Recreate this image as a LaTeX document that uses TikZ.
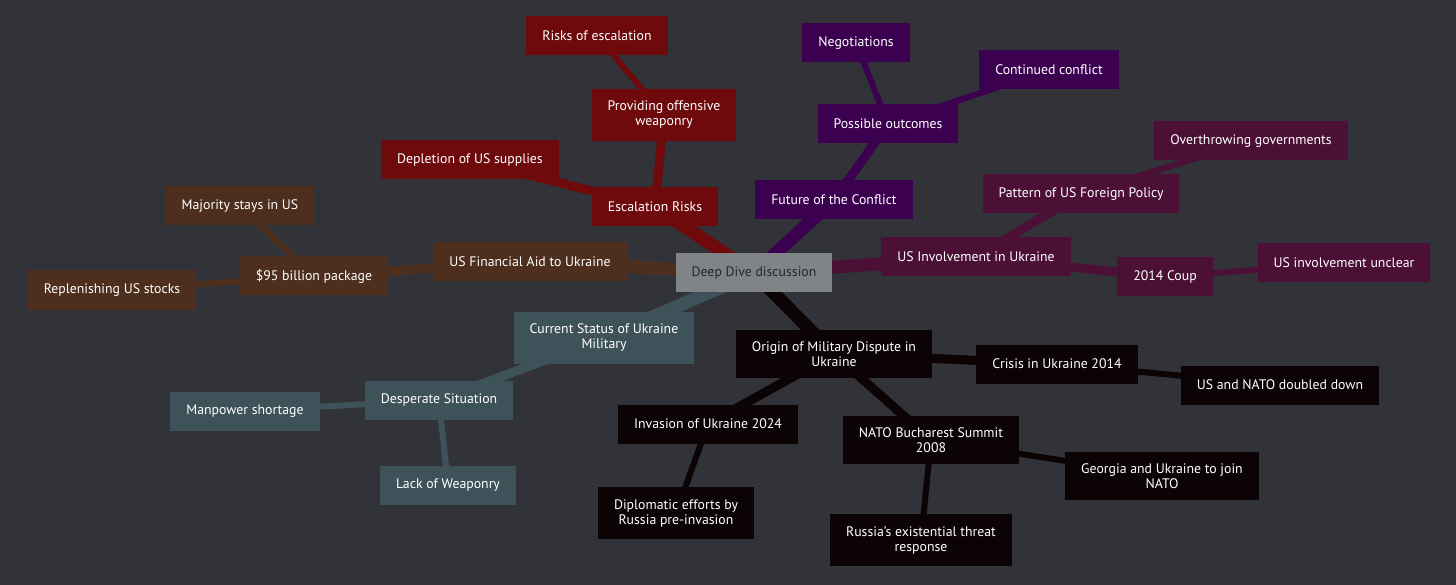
\documentclass[tikz,border=0pt]{standalone}
\usepackage{fontspec}
\setmainfont{PT Sans}
\usetikzlibrary{backgrounds}

\definecolor{bgdark}{RGB}{49,51,56}
\definecolor{rootgrey}{RGB}{128,132,134}
\definecolor{escred}{RGB}{110,10,11}
\definecolor{aidbrown}{RGB}{78,46,28}
\definecolor{milslate}{RGB}{62,82,89}
\definecolor{futviolet}{RGB}{60,0,80}
\definecolor{usplum}{RGB}{76,16,54}
\definecolor{origblack}{RGB}{12,4,4}

\tikzstyle{topic}=[rectangle, inner xsep=16pt, inner ysep=12pt, minimum height=39pt, align=center, text=white, font=\fontsize{13.8}{15}\selectfont]
\tikzstyle{rootedge}=[line width=13pt]
\tikzstyle{midedge}=[line width=9pt]
\tikzstyle{leafedge}=[line width=6pt]

\begin{document}
\begin{tikzpicture}[x=1pt, y=-1pt]
    \useasboundingbox (0,0) rectangle (1456,585);

    % root
    \node[topic, fill=rootgrey, text=black!85] (root) at (754,273) {Deep Dive discussion};

    % escalation
    \node[topic, fill=escred] (esc) at (655,207) {Escalation Risks};
    \node[topic, fill=escred] (offw) at (664,115) {Providing offensive\\weaponry};
    \node[topic, fill=escred] (risk) at (597,36) {Risks of escalation};
    \node[topic, fill=escred] (depl) at (470,160) {Depletion of US supplies};

    % financial aid
    \node[topic, fill=aidbrown] (aid) at (530,262) {US Financial Aid to Ukraine};
    \node[topic, fill=aidbrown] (pkg) at (314,276) {\$95 billion package};
    \node[topic, fill=aidbrown] (major) at (240,206) {Majority stays in US};
    \node[topic, fill=aidbrown] (repl) at (112,290) {Replenishing US stocks};

    % military status
    \node[topic, fill=milslate] (stat) at (604,338) {Current Status of Ukraine\\Military};
    \node[topic, fill=milslate] (desp) at (439,400) {Desperate Situation};
    \node[topic, fill=milslate] (manp) at (245,411) {Manpower shortage};
    \node[topic, fill=milslate] (lack) at (448,485) {Lack of Weaponry};

    % future
    \node[topic, fill=futviolet] (fut) at (834,200) {Future of the Conflict};
    \node[topic, fill=futviolet] (outc) at (888,124) {Possible outcomes};
    \node[topic, fill=futviolet] (nego) at (856,43) {Negotiations};
    \node[topic, fill=futviolet] (cont) at (1049,70) {Continued conflict};

    % us involvement
    \node[topic, fill=usplum] (inv) at (976,257) {US Involvement in Ukraine};
    \node[topic, fill=usplum] (patt) at (1081,194) {Pattern of US Foreign Policy};
    \node[topic, fill=usplum] (over) at (1251,141) {Overthrowing governments};
    \node[topic, fill=usplum] (coup) at (1165,277) {2014 Coup};
    \node[topic, fill=usplum] (uncl) at (1344,263) {US involvement unclear};

    % origin
    \node[topic, fill=origblack] (orig) at (834,354) {Origin of Military Dispute in\\Ukraine};
    \node[topic, fill=origblack] (cris) at (1057,364) {Crisis in Ukraine 2014};
    \node[topic, fill=origblack] (dbl) at (1280,385) {US and NATO doubled down};
    \node[topic, fill=origblack] (invs) at (708,424) {Invasion of Ukraine 2024};
    \node[topic, fill=origblack] (dipl) at (676,513) {Diplomatic efforts by\\Russia pre-invasion};
    \node[topic, fill=origblack] (buch) at (931,440) {NATO Bucharest Summit\\2008};
    \node[topic, fill=origblack] (geo) at (1162,476) {Georgia and Ukraine to join\\NATO};
    \node[topic, fill=origblack] (exis) at (921,540) {Russia's existential threat\\response};

    \begin{pgfonlayer}{background}
    \fill[bgdark] (0,0) rectangle (1456,585);

    \draw[rootedge, escred] (root.center) -- (esc.center);
    \draw[midedge, escred] (esc.center) -- (offw.center);
    \draw[leafedge, escred] (offw.center) -- (risk.center);
    \draw[midedge, escred] (esc.center) -- (depl.center);

    \draw[rootedge, aidbrown] (root.center) -- (aid.center);
    \draw[midedge, aidbrown] (aid.center) -- (pkg.center);
    \draw[leafedge, aidbrown] (pkg.center) -- (major.center);
    \draw[leafedge, aidbrown] (pkg.center) -- (repl.center);

    \draw[rootedge, milslate] (root.center) -- (stat.center);
    \draw[midedge, milslate] (stat.center) -- (desp.center);
    \draw[leafedge, milslate] (desp.center) -- (manp.center);
    \draw[leafedge, milslate] (desp.center) -- (lack.center);

    \draw[rootedge, futviolet] (root.center) -- (fut.center);
    \draw[midedge, futviolet] (fut.center) -- (outc.center);
    \draw[leafedge, futviolet] (outc.center) -- (nego.center);
    \draw[leafedge, futviolet] (outc.center) -- (cont.center);

    \draw[rootedge, usplum] (root.center) -- (inv.center);
    \draw[midedge, usplum] (inv.center) -- (patt.center);
    \draw[leafedge, usplum] (patt.center) -- (over.center);
    \draw[midedge, usplum] (inv.center) -- (coup.center);
    \draw[leafedge, usplum] (coup.center) -- (uncl.center);

    \draw[rootedge, origblack] (root.center) -- (orig.center);
    \draw[midedge, origblack] (orig.center) -- (cris.center);
    \draw[leafedge, origblack] (cris.center) -- (dbl.center);
    \draw[midedge, origblack] (orig.center) -- (invs.center);
    \draw[leafedge, origblack] (invs.center) -- (dipl.center);
    \draw[midedge, origblack] (orig.center) -- (buch.center);
    \draw[leafedge, origblack] (buch.center) -- (geo.center);
    \draw[leafedge, origblack] (buch.center) -- (exis.center);
    \end{pgfonlayer}
\end{tikzpicture}
\end{document}
